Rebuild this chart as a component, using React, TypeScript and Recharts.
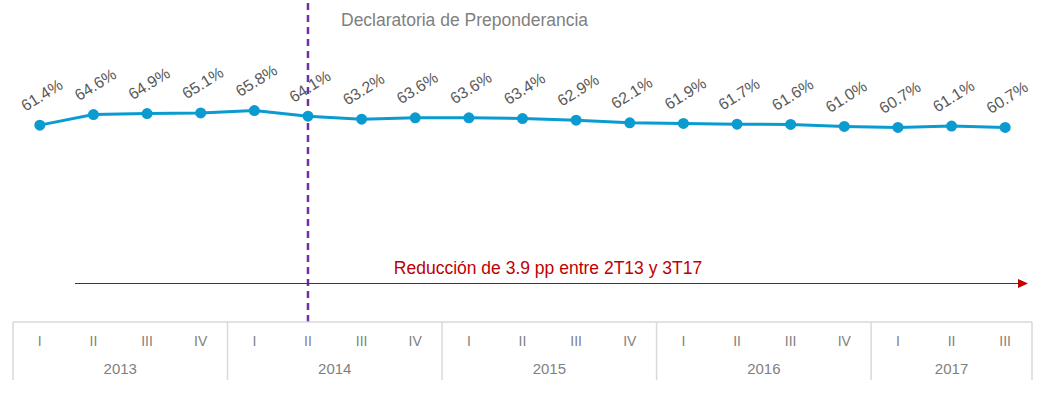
import { LineChart, Line, XAxis, YAxis, ReferenceLine, LabelList } from 'recharts';

const quarters = ['I', 'II', 'III', 'IV', 'I', 'II', 'III', 'IV', 'I', 'II', 'III', 'IV', 'I', 'II', 'III', 'IV', 'I', 'II', 'III'];
const years = ['2013', '2014', '2015', '2016', '2017'];
const shares = [61.4, 64.6, 64.9, 65.1, 65.8, 64.1, 63.2, 63.6, 63.6, 63.4, 62.9, 62.1, 61.9, 61.7, 61.6, 61.0, 60.7, 61.1, 60.7];
const quarterTicks = quarters.map((_, i) => i);

const data = shares.map((v, i) => ({ i, q: quarters[i], v }));

const W = 1045;
const H = 393;
const SIDE = 13;
const AXIS_TOP = 322;
const BAND = (W - SIDE * 2) / quarters.length;
const GRID = '#d9d9d9';
const FONT = '"Liberation Sans", Arial, sans-serif';

const QuarterTick = ({ x, payload }: any) => {
  const i = payload.value;
  const yearIdx = Math.floor(i / 4);
  const lastOfYear = Math.min(yearIdx * 4 + 3, quarters.length - 1);
  const showYear = i === Math.floor((yearIdx * 4 + lastOfYear) / 2);
  const yearX = x + ((yearIdx * 4 + lastOfYear) / 2 - i) * BAND;
  return (
    <g>
      {i % 4 === 0 && (
        <line x1={x - BAND / 2} x2={x - BAND / 2} y1={AXIS_TOP} y2={AXIS_TOP + 58} stroke={GRID} strokeWidth={1.5} />
      )}
      {i === quarters.length - 1 && (
        <line x1={x + BAND / 2} x2={x + BAND / 2} y1={AXIS_TOP} y2={AXIS_TOP + 58} stroke={GRID} strokeWidth={1.5} />
      )}
      <text x={x} y={AXIS_TOP + 24} textAnchor="middle" fontSize={14} fill="#7f7f7f" fontFamily={FONT}>
        {quarters[i]}
      </text>
      {showYear && (
        <text x={yearX} y={AXIS_TOP + 52} textAnchor="middle" fontSize={15} fill="#7f7f7f" fontFamily={FONT}>
          {years[yearIdx]}
        </text>
      )}
    </g>
  );
};

const ValueLabel = ({ x, y, value }: any) => (
  <text
    transform={`translate(${x + 2},${y - 30}) rotate(-32)`}
    textAnchor="middle"
    dominantBaseline="central"
    fontSize={16}
    fill="#595959"
    fontFamily={FONT}
  >
    {value.toFixed(1)}%
  </text>
);

export default function App() {
  return (
    <div style={{ position: 'absolute', left: 0, top: 0, width: W, height: H, background: '#fff' }}>
      <LineChart width={W} height={H} data={data} margin={{ top: 2, right: SIDE, bottom: 11, left: SIDE }}>
        <XAxis
          dataKey="i"
          type="number"
          domain={[-0.5, quarters.length - 0.5]}
          ticks={quarterTicks}
          interval={0}
          height={60}
          tickLine={false}
          axisLine={{ stroke: GRID, strokeWidth: 1.5 }}
          tick={<QuarterTick />}
        />
        <YAxis hide domain={[1.76, 98.7]} />
        <ReferenceLine x={5} stroke="#7030A0" strokeWidth={2.5} strokeDasharray="7 5" />
        <Line
          dataKey="v"
          stroke="#0a9bd0"
          strokeWidth={3}
          dot={{ r: 4, fill: '#0a9bd0', stroke: '#0a9bd0' }}
          isAnimationActive={false}
        >
          <LabelList dataKey="v" content={<ValueLabel />} />
        </Line>
      </LineChart>
      <svg width={W} height={H} style={{ position: 'absolute', left: 0, top: 0, pointerEvents: 'none' }}>
        <text x={341} y={26} fontSize={17.5} fill="#7f7f7f" fontFamily={FONT}>
          Declaratoria de Preponderancia
        </text>
        <text x={548} y={274} textAnchor="middle" fontSize={17.5} fill="#c00000" fontFamily={'"Liberation Sans Narrow", "Liberation Sans", sans-serif'}>
          Reducción de 3.9 pp entre 2T13 y 3T17
        </text>
        <line x1={75} x2={1020} y1={283.5} y2={283.5} stroke="#c00000" strokeWidth={1} />
        <polygon points="1018,279 1028,283.5 1018,288" fill="#c00000" />
      </svg>
    </div>
  );
}
